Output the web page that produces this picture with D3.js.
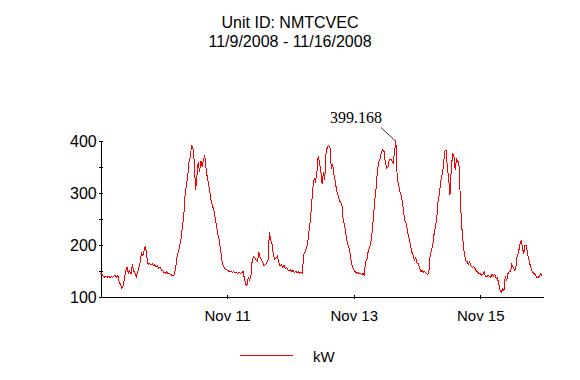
<!DOCTYPE html>
<html><head><meta charset="utf-8">
<script src="https://cdn.jsdelivr.net/npm/d3@7"></script>
<style>body{margin:0;background:#fff;} svg{display:block;}</style>
</head><body>
<script>
// ---- data ----
const titleLines = ["Unit ID: NMTCVEC", "11/9/2008 - 11/16/2008"];
const seriesName = "kW";
const startDate = "2008-11-09";
const endDate = "2008-11-16";
const dayStarts = ["2008-11-09","2008-11-10","2008-11-11","2008-11-12","2008-11-13","2008-11-14","2008-11-15"];
const xTickDates = ["2008-11-11","2008-11-13","2008-11-15"];
const xTickLabels = ["Nov 11","Nov 13","Nov 15"];
const yTicks = [100,150,200,250,300,350,400];
const yTickLabels = [100,200,300,400];
// half-hourly kW readings, 48 per day
const kwNov09 = [146,143,140,138,139,138,140,137,139,138,
 140,141,138,141,130,124,116,122,135,150,
 157,146,150,144,163,150,146,138,148,156,
 168,185,180,190,198,178,163,165,162,164,
 160,162,158,160,155,157,152,151];
const kwNov10 = [147,146,148,145,146,143,142,141,144,158,
 178,187,200,212,235,254,295,315,330,360,
 370,392,385,360,306,332,360,340,362,350,
 365,372,345,328,315,300,282,274,266,250,
 235,220,208,190,170,160,155,152];
const kwNov11 = [152,150,148,149,147,149,146,147,145,148,
 145,147,149,136,125,122,137,133,141,172,
 178,176,170,168,186,176,172,166,160,162,
 166,172,225,210,202,182,172,175,178,168,
 160,162,157,161,155,157,152,150];
const kwNov12 = [152,149,151,147,150,146,149,145,148,146,
 181,187,193,203,226,245,277,310,328,322,
 338,370,360,342,318,340,325,376,389,392,
 386,347,355,335,322,305,296,286,282,278,
 248,240,222,206,198,188,171,158];
const kwNov13 = [152,149,146,148,144,146,143,145,142,168,
 172,188,194,205,225,255,287,310,343,360,
 366,378,383,380,358,348,350,364,365,362,
 358,380,399.168,328,318,302,296,282,260,245,
 240,224,213,200,187,181,170,175];
const kwNov14 = [165,164,155,149,151,148,149,145,143,148,
 181,190,201,222,235,252,285,299,322,335,
 350,380,383,350,328,296,345,375,372,345,
 365,362,350,280,235,205,182,170,168,163,
 168,160,157,158,155,150,148,145];
const kwNov15 = [145,142,143,148,140,139,142,140,138,144,
 140,144,136,137,126,113,110,115,112,140,
 130,145,148,150,163,156,152,155,180,185,
 200,209,195,183,200,200,181,171,160,152,
 147,145,142,138,137,141,145,141];
const dailySeries = [kwNov09,kwNov10,kwNov11,kwNov12,kwNov13,kwNov14,kwNov15];

// ---- build ----
const parse = d3.utcParse("%Y-%m-%d");
const data = [];
dailySeries.forEach((arr, d) => {
  const base = parse(dayStarts[d]);
  arr.forEach((v, k) => data.push({t: d3.utcMinute.offset(base, 30 * k), v}));
});

const W = 580, H = 380;
const svg = d3.select("body").append("svg").attr("width", W).attr("height", H);
const sans = "Arial, 'Liberation Sans', sans-serif";

const x = d3.scaleUtc().domain([parse(startDate), parse(endDate)]).range([100.7, 543.5]);
const y = d3.scaleLinear().domain([100, 400]).range([297, 141]);

// title
svg.append("g").selectAll("text").data(titleLines).join("text")
  .attr("x", 290).attr("y", (d, i) => 28 + i * 19)
  .attr("text-anchor", "middle").attr("font-family", sans).attr("font-size", 16)
  .attr("fill", "#000").text(d => d);

// y axis
const gy = svg.append("g").attr("transform", "translate(100.7,0)")
  .call(d3.axisLeft(y).tickValues(yTicks).tickSizeOuter(0)
    .tickFormat(d => yTickLabels.includes(d) ? d : ""));
gy.select(".domain").attr("stroke", "#000").attr("shape-rendering", "crispEdges");
gy.selectAll(".tick line").attr("x1", -2).attr("x2", 2).attr("stroke", "#000").attr("shape-rendering", "crispEdges");
gy.selectAll(".tick text").attr("x", -4).attr("font-family", sans).attr("font-size", 16).attr("fill", "#000");

// x axis
const gx = svg.append("g").attr("transform", "translate(0,297)")
  .call(d3.axisBottom(x).tickValues(xTickDates.map(parse)).tickSizeOuter(0)
    .tickFormat((d, i) => xTickLabels[i]));
gx.select(".domain").attr("stroke", "#000").attr("shape-rendering", "crispEdges");
gx.selectAll(".tick line").attr("y1", -2).attr("y2", 2).attr("stroke", "#000").attr("shape-rendering", "crispEdges");
gx.selectAll(".tick text").attr("y", 24).attr("dy", 0).attr("font-family", sans).attr("font-size", 15).attr("fill", "#000");

// series line
svg.append("path").datum(data)
  .attr("fill", "none").attr("stroke", "#ff0000").attr("stroke-width", 1)
  .attr("shape-rendering", "crispEdges")
  .attr("d", d3.line().x(d => x(d.t)).y(d => y(d.v)));

// max annotation
const peak = data.reduce((a, b) => (b.v > a.v ? b : a));
const px = x(peak.t), py = y(peak.v);
svg.append("line").attr("x1", px - 15).attr("y1", py - 14).attr("x2", px).attr("y2", py)
  .attr("stroke", "#000").attr("stroke-width", 0.8);
svg.append("text").attr("x", px - 14).attr("y", py - 18).attr("text-anchor", "end")
  .attr("font-family", "'Times New Roman', 'Liberation Serif', serif").attr("font-size", 16)
  .attr("fill", "#000").text(d3.format(".3f")(peak.v));

// legend
svg.append("line").attr("x1", 240).attr("x2", 293).attr("y1", 355.5).attr("y2", 355.5)
  .attr("stroke", "#ff0000").attr("stroke-width", 1).attr("shape-rendering", "crispEdges");
svg.append("text").attr("x", 313).attr("y", 362).attr("font-family", sans).attr("font-size", 15)
  .attr("fill", "#000").text(seriesName);
</script>
</body></html>
